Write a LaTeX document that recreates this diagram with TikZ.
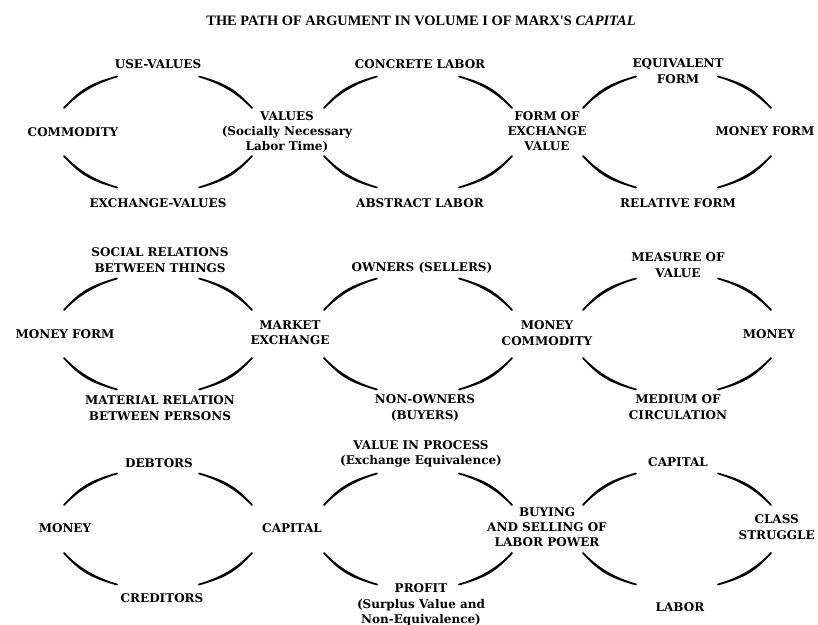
\documentclass[tikz,border=0pt]{standalone}
\usepackage{fontspec}
\setmainfont{DejaVu Serif}
\newfontfamily\titlefont{Liberation Serif}
\tikzset{
  lbl/.style={font=\bfseries\fontsize{9}{11.5}\selectfont, align=center, inner sep=0pt, text=black},
  ttl/.style={font=\titlefont\bfseries\fontsize{10.8}{13}\selectfont, inner sep=0pt},
  brush/.style={fill=black, draw=black, line width=1.35pt, line join=round, line cap=round},
}
\newcommand\brushstroke[4]{%
  \filldraw[brush] (#1) to[out=#3,in=#4,out looseness=1.2,in looseness=1.0] (#2)
    to[out=#4,in=#3,out looseness=0.96,in looseness=0.84] (#1) -- cycle;}
\begin{document}
\begin{tikzpicture}[x=0.75pt,y=0.75pt]
\useasboundingbox (0,0) rectangle (818,-625);
\fill[white] (0,0) rectangle (818,-625);

\node[ttl] (title) at (421,-21) {THE PATH OF ARGUMENT IN VOLUME I OF MARX'S \textit{CAPITAL}};

% ---- row 1
\node[lbl] (usevalues) at (158,-64) {USE-VALUES};
\node[lbl] (commodity) at (73,-132) {COMMODITY};
\node[lbl] (exchvalues) at (158,-203) {EXCHANGE-VALUES};
\node[lbl] (values) at (287,-132) {VALUES\\(Socially Necessary\\Labor Time)};
\node[lbl] (concrete) at (420,-64) {CONCRETE LABOR};
\node[lbl] (abstract) at (420,-203) {ABSTRACT LABOR};
\node[lbl] (formev) at (547,-131) {FORM OF\\EXCHANGE\\VALUE};
\node[lbl] (equiv) at (678,-71) {EQUIVALENT\\FORM};
\node[lbl] (moneyform) at (765,-131) {MONEY FORM};
\node[lbl] (relative) at (678,-203) {RELATIVE FORM};

% ---- row 2
\node[lbl] (social) at (160,-260) {SOCIAL RELATIONS\\BETWEEN THINGS};
\node[lbl] (moneyformb) at (65,-334) {MONEY FORM};
\node[lbl] (material) at (160,-408) {MATERIAL RELATION\\BETWEEN PERSONS};
\node[lbl] (market) at (290,-333) {MARKET\\EXCHANGE};
\node[lbl] (owners) at (422,-268) {OWNERS (SELLERS)};
\node[lbl] (nonowners) at (425,-408) {NON-OWNERS\\(BUYERS)};
\node[lbl] (moneycomm) at (547,-333) {MONEY\\COMMODITY};
\node[lbl] (measure) at (678,-265) {MEASURE OF\\VALUE};
\node[lbl] (money) at (769,-334) {MONEY};
\node[lbl] (medium) at (678,-407) {MEDIUM OF\\CIRCULATION};

% ---- row 3
\node[lbl] (debtors) at (159,-463) {DEBTORS};
\node[lbl] (moneyc) at (65,-528) {MONEY};
\node[lbl] (creditors) at (162,-598) {CREDITORS};
\node[lbl] (capital) at (292,-528) {CAPITAL};
\node[lbl] (vip) at (421,-454) {VALUE IN PROCESS\\(Exchange Equivalence)};
\node[lbl] (buying) at (547,-527) {BUYING\\AND SELLING OF\\LABOR POWER};
\node[lbl] (profit) at (421,-605) {PROFIT\\(Surplus Value and\\Non-Equivalence)};
\node[lbl] (capitalb) at (678,-462) {CAPITAL};
\node[lbl, anchor=east] (class) at (815,-527) {CLASS\\STRUGGLE};
\node[lbl] (labor) at (680,-607) {LABOR};

% ---- brush-stroke arcs of the nine rings
\foreach \n/\cx/\cy in {A/158/132, B/418/132, C/677/132,
                        D/158/334, E/418/334, F/677/334,
                        G/158/529, H/418/529, I/677/529}{
  \coordinate (\n tl) at ({\cx-41},{-\cy+55.5});
  \coordinate (\n lt) at ({\cx-94},{-\cy+24});
  \coordinate (\n tr) at ({\cx+41},{-\cy+55.5});
  \coordinate (\n rt) at ({\cx+94},{-\cy+24});
  \coordinate (\n bl) at ({\cx-41},{-\cy-55.5});
  \coordinate (\n lb) at ({\cx-94},{-\cy-24});
  \coordinate (\n br) at ({\cx+41},{-\cy-55.5});
  \coordinate (\n rb) at ({\cx+94},{-\cy-24});
  \brushstroke{\n tl}{\n lt}{196}{47}
  \brushstroke{\n tr}{\n rt}{-16}{133}
  \brushstroke{\n bl}{\n lb}{164}{-47}
  \brushstroke{\n br}{\n rb}{16}{227}
}
\end{tikzpicture}
\end{document}
